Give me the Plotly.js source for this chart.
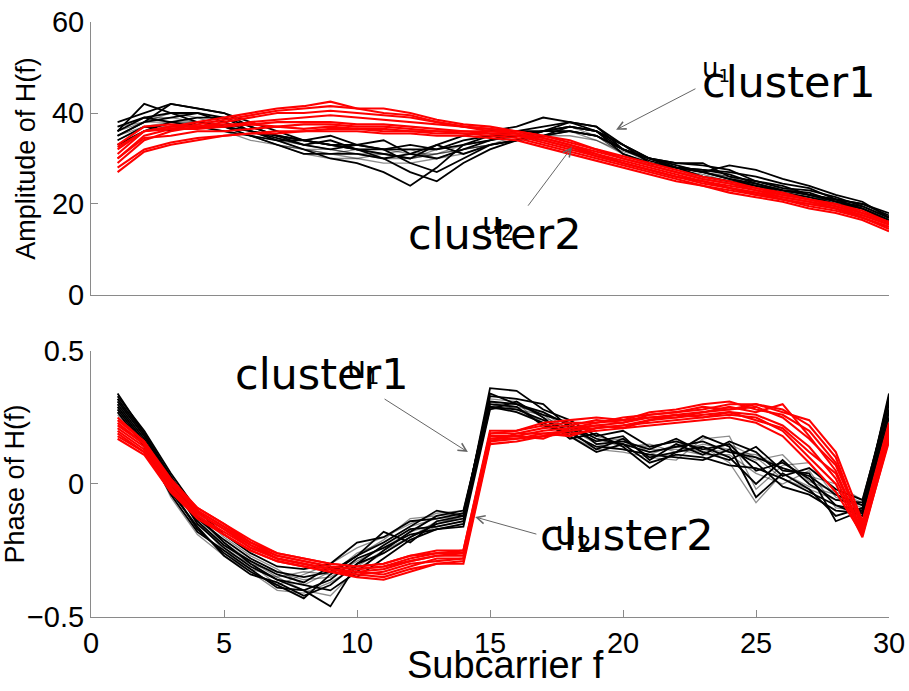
<!DOCTYPE html>
<html>
<head>
<meta charset="utf-8">
<script src="https://cdn.plot.ly/plotly-3.0.1.min.js"></script>
<style>html,body{margin:0;padding:0;background:#fff;}#chart{width:909px;height:691px;}</style>
</head>
<body>
<div id="chart"></div>
<script>
// Subcarrier index
const subcarriers = [1,2,3,4,5,6,7,8,9,10,11,12,13,14,15,16,17,18,19,20,21,22,23,24,25,26,27,28,29,30];
const xTickVals = [0,5,10,15,20,25,30];
const ampTickVals = [0,20,40,60];
const phaseTickVals = [-0.5,0,0.5];
const phaseTickText = ['\u22120.5','0','0.5'];

// ---- Amplitude, cluster 1 (black) ----
const ampB1 = [38,40,42,41,40,38,36,34,33,32,31,30,33,35,36,37,39,38,36,31,29,28,27,28.5,27.5,25.5,24,22,20.5,17];
const ampB2 = [36,42,40,40,39,37,35,33,32,33,34,31,30,32,34,36,37,38,37,33,30,28.5,27,25.5,24.5,23,22,21,20,17.5];
const ampB3 = [35,38,42,41,40,37,35,34,35,33,32,29,27,30,33,34,35,36,35,32,30,28,26,25,24,22.5,21.5,20,19,16.5];
const ampB4 = [33,36,38,39,39,36,34,32,30,29,27,24,28,33,35,35,36,37,36,33,30,29,28.5,27.5,25,23.5,23,21.5,19.5,17];
const ampB5 = [37,39,38,37,36,35,34,34,33,33,32,32,32,33,34,35,36,36,35,32,30,28,27,25.5,24,23,22,20.5,19,16];
const ampB6 = [34,37,36,38,37,36,34.5,33,34,32,30,27,25,29,32,34,35,37,36,33,29,28,27.5,27,26,24.5,23.5,21,20,18];
const ampB7 = [36,39,40,38,37,35,33,31,31,31,30,31,33,31,33,34,36,38,37,32,30,29,29,26,25,24,22,21,19,16.5];
const ampB8 = [35,38,39,40,38,36,35,34,33,32,32,33,32,34,35,36,36,37,36,32,29.5,28,27.5,26.5,24.5,23,22.5,20.5,19.5,17];
// ---- Amplitude, cluster 1 (grey, lighter samples) ----
const ampG1 = [36,39,39,38,37,35,33,32,31,32,31,30,31,33,34,35,36,36,35,31,29,28,26,25,24,23,22,21,18,16];
const ampG2 = [34,37,38,37,36,35,34,33,32,31,30,30,32,33,34,35,35,36,34,31,29,27.5,26.5,25,23.5,22.5,21.5,20.5,19,16.5];
const ampG3 = [37,38,40,39,37,36,34,32,31,30,31,32,30,32,33,34,35,35,34,31.5,30,28.5,27,26,25,23.5,22,20,19.5,17];
const ampG4 = [35,37,37,37,36,34,33,32,32,31,31,30,31,32,33,34,35,36,35,31,28.5,27,26,25,24.5,23,21,21,17.5,16];
const ampG5 = [33,36,38,38,37,35,33,31,30,30,29,29,30,31,33,34,36,37,35,32,29,28,27,25.5,24,22.5,21.5,20,19,16];
const ampG6 = [36,38,38,38,37,36,35,34,33,32,32,31,31,32,33,35,36,36,35,32,30,28,27,26,24,23.5,22,20,19,17];
// ---- Amplitude, cluster 2 (red) ----
const ampR1 = [31,36,37,38,39,40,41,41.5,42.5,41,41,40,38.5,37.5,37,36,35,33.5,32,30,28.5,27,25.5,24.5,23.5,22,21,20,18,16];
const ampR2 = [30,35,36.5,37.5,38.5,39.5,40.5,41,41.5,41,40,39.5,38,37,36.5,35.5,34.5,33,31,29.5,28,26.5,25,24,23,21.5,20.5,19.5,17.5,15.5];
const ampR3 = [29,34,36,37,38,39,40,40,40.5,40,39.5,39,38,37,36,35.5,34,32.5,31,29,27.5,26,25,23.5,22.5,21,20,19,17,15];
const ampR4 = [32,36,37,37,37.5,37.5,38,38,38,37.5,37.5,37,36.5,36,36,35.5,34.5,33,31.5,30,28.5,27,25.5,24.5,23,22,21,19.5,18,16];
const ampR5 = [33,37,37.5,37,37,37.5,37,37.5,37.5,37,37,36.5,36,36,35.5,35,34,32.5,30.5,29,27.5,26,25,23.5,22.5,21.5,20.5,19,17.5,15.5];
const ampR6 = [28,32,33.5,34.5,35,35.5,36,36,36.5,36.5,36,36,35.5,35.5,35,34.5,33,31.5,30,28.5,27,25.5,24,23,22,21,19.5,18.5,17,14.5];
const ampR7 = [27,31.5,33,34,35,35.5,35.5,36,36,36,35.5,35.5,35,35,34.5,34,32.5,31,29.5,28,26.5,25,24,22.5,21.5,20.5,19,18,16.5,14];
const ampR8 = [30,34.5,35,36,36,36.5,37,36.5,37,36.5,36.5,36,36,35.5,35.5,35,33.5,32,30.5,29,27.5,26,24.5,23.5,22,21,20,19,17,15];
const ampR9 = [32.5,36,36.5,36.5,37,38,38.5,39,39.5,39,38.5,38,37.5,37,36.5,36,35,34,32,30.5,29,27.5,26,25,23.5,22.5,21,20,18.5,16];

// ---- Phase, cluster 1 (black) ----
const phB1 = [0.34,0.19,0.03,-0.12,-0.22,-0.30,-0.36,-0.40,-0.46,-0.30,-0.26,-0.20,-0.15,-0.13,0.36,0.35,0.28,0.24,0.18,0.20,0.14,0.16,0.13,0.15,0.05,0.08,0.02,-0.08,-0.10,0.33];
const phB2 = [0.31,0.18,0.01,-0.15,-0.24,-0.31,-0.36,-0.38,-0.40,-0.33,-0.25,-0.18,-0.12,-0.10,0.31,0.30,0.27,0.22,0.17,0.15,0.12,0.14,0.16,0.12,0.10,0.06,0.03,-0.04,-0.08,0.31];
const phB3 = [0.29,0.16,-0.02,-0.17,-0.26,-0.33,-0.38,-0.43,-0.34,-0.27,-0.22,-0.16,-0.10,-0.12,0.29,0.28,0.24,0.20,0.13,0.17,0.10,0.12,0.18,0.14,-0.05,0.04,-0.02,-0.12,-0.09,0.28];
const phB4 = [0.33,0.20,0.04,-0.10,-0.19,-0.26,-0.31,-0.32,-0.30,-0.22,-0.20,-0.14,-0.13,-0.11,0.33,0.32,0.30,0.21,0.16,0.18,0.09,0.15,0.11,0.16,0.12,0.03,0.06,-0.02,-0.06,0.30];
const phB5 = [0.27,0.14,-0.04,-0.18,-0.25,-0.32,-0.39,-0.40,-0.36,-0.28,-0.24,-0.19,-0.17,-0.15,0.30,0.29,0.22,0.19,0.14,0.13,0.11,0.10,0.09,0.13,0.08,-0.01,-0.04,-0.10,-0.11,0.27];
const phB6 = [0.30,0.17,0.00,-0.14,-0.23,-0.29,-0.34,-0.37,-0.31,-0.35,-0.28,-0.21,-0.17,-0.16,0.28,0.31,0.25,0.17,0.19,0.14,0.06,0.12,0.14,0.10,0.00,0.09,0.00,-0.06,-0.07,0.32];
const phB7 = [0.32,0.19,0.02,-0.13,-0.21,-0.28,-0.33,-0.35,-0.33,-0.27,-0.18,-0.22,-0.14,-0.12,0.34,0.30,0.26,0.23,0.15,0.16,0.13,0.17,0.12,0.09,0.14,0.05,0.04,-0.14,-0.10,0.34];
const phB8 = [0.28,0.15,-0.03,-0.16,-0.27,-0.34,-0.37,-0.42,-0.38,-0.30,-0.23,-0.17,-0.16,-0.14,0.29,0.27,0.23,0.18,0.12,0.15,0.08,0.11,0.10,0.07,0.06,0.02,-0.03,-0.08,-0.12,0.25];
// ---- Phase, cluster 1 (grey) ----
const phG1 = [0.31,0.20,0.02,-0.14,-0.25,-0.30,-0.38,-0.34,-0.30,-0.24,-0.20,-0.15,-0.11,-0.10,0.30,0.27,0.24,0.20,0.16,0.17,0.12,0.14,0.12,0.15,0.10,0.02,-0.02,-0.06,-0.08,0.29];
const phG2 = [0.29,0.17,-0.01,-0.17,-0.26,-0.32,-0.35,-0.40,-0.42,-0.32,-0.26,-0.20,-0.14,-0.13,0.28,0.29,0.23,0.18,0.13,0.12,0.10,0.09,0.17,0.18,-0.02,0.07,0.08,-0.05,-0.09,0.30];
const phG3 = [0.26,0.15,0.00,-0.15,-0.23,-0.30,-0.33,-0.36,-0.35,-0.29,-0.24,-0.18,-0.15,-0.12,0.32,0.31,0.21,0.22,0.17,0.14,0.15,0.12,0.15,0.13,0.09,0.11,0.01,-0.03,-0.07,0.26];
const phG4 = [0.32,0.18,0.03,-0.11,-0.20,-0.27,-0.32,-0.38,-0.33,-0.27,-0.21,-0.13,-0.12,-0.11,0.31,0.28,0.26,0.19,0.14,0.16,0.13,0.13,0.11,0.11,0.04,0.00,0.05,-0.09,-0.10,0.32];
const phG5 = [0.28,0.16,-0.05,-0.19,-0.27,-0.33,-0.40,-0.41,-0.37,-0.31,-0.25,-0.20,-0.16,-0.14,0.29,0.30,0.25,0.21,0.15,0.13,0.11,0.15,0.14,0.08,-0.07,0.04,-0.01,-0.04,-0.11,0.28];
const phG6 = [0.30,0.19,0.01,-0.13,-0.22,-0.29,-0.35,-0.33,-0.34,-0.26,-0.22,-0.16,-0.13,-0.12,0.30,0.29,0.27,0.20,0.18,0.15,0.14,0.16,0.13,0.12,0.11,0.06,0.03,0.00,-0.06,0.31];
// ---- Phase, cluster 2 (red) ----
const phR1 = [0.25,0.16,0.01,-0.09,-0.15,-0.22,-0.26,-0.28,-0.30,-0.31,-0.30,-0.27,-0.25,-0.25,0.20,0.20,0.23,0.24,0.25,0.24,0.27,0.28,0.30,0.31,0.28,0.26,0.20,0.08,-0.15,0.21];
const phR2 = [0.23,0.15,0.00,-0.10,-0.16,-0.23,-0.27,-0.29,-0.31,-0.32,-0.31,-0.28,-0.26,-0.26,0.19,0.19,0.21,0.22,0.24,0.23,0.26,0.27,0.28,0.30,0.30,0.28,0.22,0.10,-0.17,0.20];
const phR3 = [0.21,0.14,-0.01,-0.11,-0.17,-0.23,-0.28,-0.30,-0.32,-0.33,-0.32,-0.29,-0.27,-0.27,0.18,0.18,0.20,0.21,0.22,0.23,0.25,0.26,0.27,0.29,0.27,0.30,0.18,0.05,-0.18,0.19];
const phR4 = [0.20,0.13,-0.02,-0.12,-0.18,-0.24,-0.28,-0.30,-0.32,-0.33,-0.34,-0.31,-0.28,-0.28,0.17,0.17,0.19,0.20,0.22,0.21,0.24,0.25,0.26,0.27,0.26,0.22,0.14,0.02,-0.19,0.18];
const phR5 = [0.19,0.12,-0.03,-0.12,-0.19,-0.25,-0.29,-0.31,-0.33,-0.34,-0.35,-0.32,-0.30,-0.29,0.16,0.17,0.18,0.20,0.21,0.22,0.23,0.24,0.25,0.26,0.25,0.20,0.10,0.00,-0.20,0.17];
const phR6 = [0.17,0.11,-0.03,-0.13,-0.19,-0.25,-0.29,-0.31,-0.33,-0.35,-0.36,-0.33,-0.30,-0.30,0.15,0.16,0.18,0.19,0.20,0.21,0.22,0.23,0.24,0.25,0.23,0.18,0.08,-0.03,-0.19,0.16];
const phR7 = [0.22,0.15,0.01,-0.10,-0.16,-0.22,-0.27,-0.29,-0.31,-0.32,-0.31,-0.29,-0.27,-0.26,0.17,0.18,0.17,0.21,0.23,0.24,0.25,0.25,0.27,0.28,0.29,0.25,0.17,0.07,-0.16,0.22];
const phR8 = [0.18,0.12,-0.02,-0.11,-0.17,-0.24,-0.28,-0.30,-0.32,-0.34,-0.33,-0.30,-0.29,-0.28,0.16,0.19,0.19,0.18,0.21,0.22,0.24,0.26,0.25,0.27,0.24,0.21,0.12,0.04,-0.18,0.18];
const phR9 = [0.24,0.16,0.02,-0.09,-0.15,-0.21,-0.26,-0.28,-0.30,-0.31,-0.30,-0.27,-0.26,-0.25,0.19,0.20,0.22,0.23,0.23,0.25,0.26,0.27,0.29,0.28,0.30,0.27,0.24,0.12,-0.14,0.23];

const ampGrey = [ampG1, ampG2, ampG3, ampG4, ampG5, ampG6];
const ampBlack = [ampB1, ampB2, ampB3, ampB4, ampB5, ampB6, ampB7, ampB8];
const ampRed = [ampR1, ampR2, ampR3, ampR4, ampR5, ampR6, ampR7, ampR8, ampR9];
const phGrey = [phG1, phG2, phG3, phG4, phG5, phG6];
const phBlack = [phB1, phB2, phB3, phB4, phB5, phB6, phB7, phB8];
const phRed = [phR1, phR2, phR3, phR4, phR5, phR6, phR7, phR8, phR9];

const traces = [];
function addGroup(list, xa, ya, color, width) {
  list.forEach(function (ys) {
    traces.push({x: subcarriers, y: ys, xaxis: xa, yaxis: ya, type: 'scatter', mode: 'lines',
      line: {color: color, width: width}, hoverinfo: 'skip', showlegend: false});
  });
}
addGroup(ampGrey, 'x', 'y', 'rgba(0,0,0,0.45)', 1.3);
addGroup(ampBlack, 'x', 'y', '#000000', 1.8);
addGroup(ampRed, 'x', 'y', '#ff0000', 2.1);
addGroup(phGrey, 'x2', 'y2', 'rgba(0,0,0,0.45)', 1.3);
addGroup(phBlack, 'x2', 'y2', '#000000', 1.8);
addGroup(phRed, 'x2', 'y2', '#ff0000', 2.1);

const sansFont = 'Liberation Sans, Arial, sans-serif';
const tickFont = {family: sansFont, size: 29, color: '#000'};
const axisCommon = {showline: true, linecolor: '#8a8a8a', linewidth: 1, showgrid: false, zeroline: false,
  mirror: false, automargin: false, tickfont: tickFont};

function label(text, x, y, xr, yr, size) {
  return {text: text, x: x, y: y, xref: xr, yref: yr, xanchor: 'left', yanchor: 'middle',
    showarrow: false, font: {family: 'DejaVu Sans, sans-serif', size: size, color: '#000'}};
}
function arrow(hx, hy, tx, ty, xr, yr) {
  return {text: '', x: hx, y: hy, ax: tx, ay: ty, xref: xr, yref: yr, axref: xr, ayref: yr,
    showarrow: true, arrowhead: 5, arrowsize: 1.6, arrowwidth: 1, arrowcolor: '#666'};
}

const layout = {
  width: 909, height: 691,
  margin: {l: 91, r: 20, t: 22, b: 74},
  paper_bgcolor: '#fff', plot_bgcolor: '#fff',
  showlegend: false,
  xaxis: Object.assign({}, axisCommon, {domain: [0, 1], range: [0, 30], anchor: 'y',
    showticklabels: false, ticks: ''}),
  yaxis: Object.assign({}, axisCommon, {domain: [0.5412, 1], range: [0, 60], anchor: 'x',
    tickvals: ampTickVals, ticks: 'inside', ticklen: 7, tickcolor: '#8a8a8a',
    title: {text: 'Amplitude of H(f)', font: {family: sansFont, size: 27, color: '#000'}, standoff: 8}}),
  xaxis2: Object.assign({}, axisCommon, {domain: [0, 1], range: [0, 30], anchor: 'y2',
    tickvals: xTickVals, ticks: 'inside', ticklen: 7, tickcolor: '#8a8a8a'}),
  yaxis2: Object.assign({}, axisCommon, {domain: [0, 0.4471], range: [-0.5, 0.5], anchor: 'x2',
    tickvals: phaseTickVals, ticktext: phaseTickText, ticks: 'inside', ticklen: 7, tickcolor: '#8a8a8a',
    title: {text: 'Phase of H(f)', font: {family: sansFont, size: 27, color: '#000'}, standoff: 8}}),
  annotations: [
    {text: 'Subcarrier f', xref: 'x2', yref: 'paper', x: 15.6, y: -0.0807, xanchor: 'center', yanchor: 'middle',
      showarrow: false, font: {family: sansFont, size: 38, color: '#000'}},
    arrow(19.74, 36.3, 22.78, 45.5, 'x', 'y'),
    arrow(18.08, 32.5, 16.39, 19.3, 'x', 'y'),
    arrow(14.17, 0.120, 10.98, 0.323, 'x2', 'y2'),
    arrow(14.44, -0.124, 16.8, -0.19, 'x2', 'y2'),
    label('cluster1', 22.9, 46.9, 'x', 'y', 43),
    label('u<sub>1</sub>', 22.9, 49.6, 'x', 'y', 26),
    label('cluster2', 11.85, 13.4, 'x', 'y', 43),
    label('u<sub>2</sub>', 14.62, 15.2, 'x', 'y', 30),
    label('cluster1', 5.35, 0.414, 'x2', 'y2', 43),
    label('u<sub>1</sub>', 9.55, 0.432, 'x2', 'y2', 30),
    label('cluster2', 16.8, -0.192, 'x2', 'y2', 43),
    label('u<sub>2</sub>', 17.37, -0.195, 'x2', 'y2', 34)
  ]
};

Plotly.newPlot('chart', traces, layout, {displayModeBar: false, staticPlot: true});
</script>
</body>
</html>
